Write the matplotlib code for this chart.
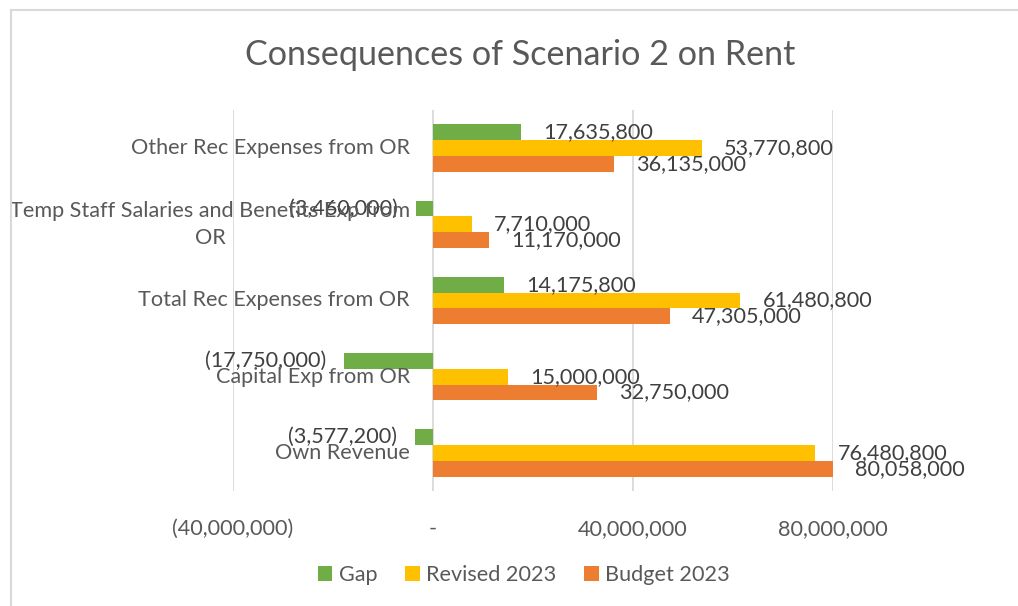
import matplotlib
matplotlib.use("Agg")
import matplotlib.pyplot as plt
from matplotlib.patches import Patch
from matplotlib.lines import Line2D
from matplotlib.ticker import FuncFormatter
from matplotlib.transforms import Bbox, TransformedBbox
import numpy as np

plt.rcParams['font.family'] = ['Lato', 'DejaVu Sans']

# ---- data ----
categories = ["Other Rec Expenses from OR",
              "Temp Staff Salaries and Benefits Exp from\nOR",
              "Total Rec Expenses from OR",
              "Capital Exp from OR",
              "Own Revenue"]
series_names = ["Gap", "Revised 2023", "Budget 2023"]
gap = [17635800, -3460000, 14175800, -17750000, -3577200]
revised = [53770800, 7710000, 61480800, 15000000, 76480800]
budget = [36135000, 11170000, 47305000, 32750000, 80058000]
x_ticks = [-40000000, 0, 40000000, 80000000]
title = "Consequences of Scenario 2 on Rent"

colors = ['#70AD47', '#FFC000', '#ED7D31']
TXT = '#595959'
LBL = '#404040'
FS = 15.6


def acct(v, pos=None):
    if v == 0:
        return "-"
    s = f"{abs(v):,.0f}"
    return f"({s})" if v < 0 else s


W, H = 1018, 606
fig = plt.figure(figsize=(W / 100, H / 100), dpi=100)
ax = fig.add_axes([233 / W, 1 - 491 / H, 600 / W, 381 / H])

y = np.arange(len(categories))
h = 0.207
for k, (vals, c) in enumerate(zip([gap, revised, budget], colors)):
    yy = y + (k - 1) * h
    ax.barh(yy, vals, height=h, color=c, zorder=2)
    for v, yv in zip(vals, yy):
        off = 22 if v >= 0 else -18
        ax.annotate(acct(v), xy=(v, yv), xytext=(off, 0), textcoords='offset pixels',
                    ha='left' if v >= 0 else 'right', va='center',
                    fontsize=FS, color=LBL, zorder=5, annotation_clip=False)

ax.set_xlim(-40e6, 80e6)
ax.set_ylim(len(categories) - 0.5, -0.5)
ax.set_xticks(x_ticks)
ax.xaxis.set_major_formatter(FuncFormatter(acct))
ax.set_yticks([])
ax.grid(axis='x', color='#D9D9D9', lw=1.3, zorder=0)
ax.set_axisbelow(True)
for s in ax.spines.values():
    s.set_visible(False)
ax.tick_params(axis='x', length=0, pad=20, labelsize=FS, labelcolor=TXT)

clip = TransformedBbox(Bbox([[11 / W, 0], [1, 1 - 10 / H]]), fig.transFigure)
for i, cat in enumerate(categories):
    t = ax.annotate(cat, xy=(0, i), xytext=(-23, 0), textcoords='offset pixels',
                    ha='right', va='center', multialignment='center', linespacing=1.45,
                    fontsize=FS, color=TXT, zorder=6, annotation_clip=False)
    t.set_clip_box(clip)
    t.set_clip_on(True)

fig.text(520 / W, 1 - 55 / H, title, ha='center', va='center', fontsize=24.6, color=TXT)

handles = [Patch(facecolor=c, edgecolor='none') for c in colors]
fig.legend(handles, series_names, loc='center', bbox_to_anchor=(524 / W, 1 - 575 / H),
           ncol=3, frameon=False, fontsize=FS, labelcolor=TXT,
           handlelength=0.65, handleheight=0.65, handletextpad=0.3, columnspacing=1.3)

# chart border (cropped)
fig.add_artist(Line2D([11 / W, 11 / W], [0, 1 - 10 / H], transform=fig.transFigure, color='#D9D9D9', lw=1.5))
fig.add_artist(Line2D([11 / W, 1], [1 - 10 / H, 1 - 10 / H], transform=fig.transFigure, color='#D9D9D9', lw=1.5))

fig.savefig('out.png', dpi=100)
